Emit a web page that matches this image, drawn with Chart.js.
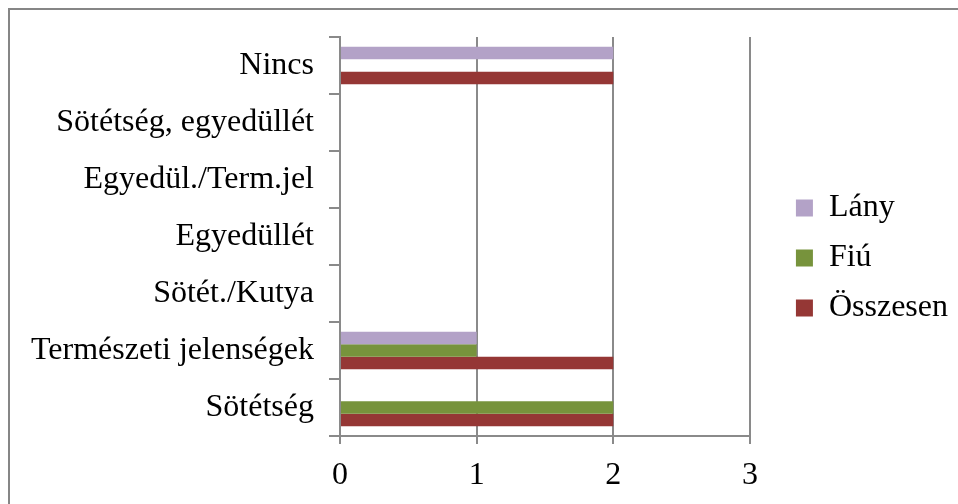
<!DOCTYPE html>
<html>
<head>
<meta charset="utf-8">
<script src="https://cdn.jsdelivr.net/npm/chart.js@4"></script>
<style>
  html, body { margin: 0; padding: 0; background: #fff; }
  #wrap { position: relative; width: 958px; height: 504px; overflow: hidden; }
  #frame { position: absolute; left: 8px; top: 8px; width: 1000px; height: 600px;
           border-top: 2px solid #868686; border-left: 2px solid #868686; }
  canvas { position: absolute; left: 0; top: 0; }
</style>
</head>
<body>
<div id="wrap">
  <div id="frame"></div>
  <canvas id="chart" width="958" height="504"></canvas>
</div>
<script>
// ── Data ──
const categories = [
  'Nincs', 'Sötétség, egyedüllét', 'Egyedül./Term.jel', 'Egyedüllét',
  'Sötét./Kutya', 'Természeti jelenségek', 'Sötétség',
];
const lany = [2, 0, 0, 0, 0, 1, 0];
const fiu = [0, 0, 0, 0, 0, 1, 2];
const osszesen = [2, 0, 0, 0, 0, 2, 2];
const xTicks = [0, 1, 2, 3];

const FONT = 'Liberation Serif, Times New Roman, serif';
const GRID = '#8a8a8a';

new Chart(document.getElementById('chart'), {
  type: 'bar',
  data: {
    labels: categories,
    datasets: [
      { label: 'Lány', data: lany, backgroundColor: '#b3a2c7' },
      { label: 'Fiú', data: fiu, backgroundColor: '#77933c' },
      { label: 'Összesen', data: osszesen, backgroundColor: '#953735' },
    ],
  },
  options: {
    indexAxis: 'y',
    responsive: false, animation: false,
    categoryPercentage: 0.66, barPercentage: 1,
    layout: { padding: { top: 37, bottom: 0, left: 0, right: 0 } },
    plugins: {
      tooltip: { enabled: false },
      legend: {
        position: 'right', fullSize: false, maxWidth: 240,
        // empty title only pushes the items down a little
        title: { display: true, text: ' ', font: { size: 10 }, padding: { top: 0, bottom: 31 } },
        labels: {
          color: '#000', font: { family: FONT, size: 32 },
          boxWidth: 17, boxHeight: 17, padding: 18,
        },
      },
    },
    scales: {
      x: {
        min: xTicks[0], max: xTicks[xTicks.length - 1],
        afterBuildTicks: s => { s.ticks = xTicks.map(v => ({ value: v })); },
        afterFit: s => { s.height = 68; },
        ticks: { color: '#000', font: { family: FONT, size: 32 }, padding: 12 },
        grid: { color: GRID, lineWidth: 2, tickLength: 8 },
        border: { color: GRID, width: 2 },
      },
      y: {
        afterFit: s => { s.width = 340; },
        ticks: { color: '#000', font: { family: FONT, size: 32 }, padding: 15 },
        grid: { offset: true, drawOnChartArea: false, color: GRID, lineWidth: 2, tickLength: 11 },
        border: { color: GRID, width: 2 },
      },
      gap: {
        type: 'linear', position: 'right', display: true,
        afterFit: s => { s.width = 28; },
        ticks: { display: false },
        grid: { display: false, drawTicks: false },
        border: { display: false },
      },
    },
  },
});
</script>
</body>
</html>
